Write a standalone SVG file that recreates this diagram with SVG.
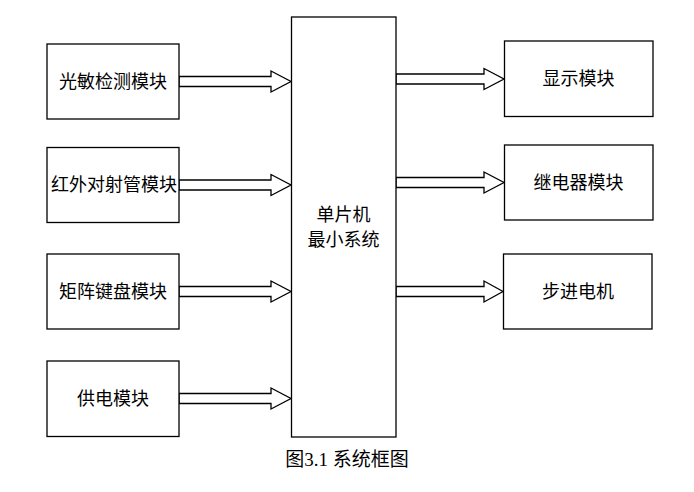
<svg xmlns="http://www.w3.org/2000/svg" width="694" height="492" viewBox="0 0 694 492">
<style>
.box{fill:#fff;stroke:#000;stroke-width:1.3}
.arr{fill:#fff;stroke:#000;stroke-width:1.3;stroke-linejoin:miter}
.t{font-family:"Liberation Sans","Noto Sans CJK SC",sans-serif;font-size:18px;fill:#000;text-anchor:middle;dominant-baseline:central}
.cap{font-family:"Liberation Serif","Noto Sans CJK SC",serif;font-size:19px;fill:#000;text-anchor:middle}
</style>
<rect width="694" height="492" fill="#fff"/>
<g id="connectors">
<polygon class="arr" points="179,76.5 271,76.5 271,71 291,81.5 271,92 271,86.5 179,86.5"/>
<polygon class="arr" points="179,180 271,180 271,174.5 291,185 271,195.5 271,190 179,190"/>
<polygon class="arr" points="179,286.5 271,286.5 271,281 291,291.5 271,302 271,296.5 179,296.5"/>
<polygon class="arr" points="179,393.5 271,393.5 271,388 291,398.5 271,409 271,403.5 179,403.5"/>
<polygon class="arr" points="396,74 484,74 484,68.5 504,79 484,89.5 484,84 396,84"/>
<polygon class="arr" points="396,177.5 484,177.5 484,172 504,182.5 484,193 484,187.5 396,187.5"/>
<polygon class="arr" points="396,286.5 484,286.5 484,281 503,291.5 484,302 484,296.5 396,296.5"/>
</g>
<g id="mcu"><rect class="box" x="291.5" y="17" width="104.5" height="420"/><text class="t" x="343.5" y="215">单片机</text><text class="t" x="343.5" y="240">最小系统</text></g>
<g id="light"><rect class="box" x="47" y="44" width="132" height="75"/><text class="t" x="113" y="82">光敏检测模块</text></g>
<g id="ir"><rect class="box" x="47" y="147.5" width="132" height="75"/><text class="t" x="114" y="185">红外对射管模块</text></g>
<g id="keypad"><rect class="box" x="47" y="254" width="132" height="75"/><text class="t" x="113" y="292">矩阵键盘模块</text></g>
<g id="power"><rect class="box" x="47" y="361" width="132" height="75.5"/><text class="t" x="113" y="399">供电模块</text></g>
<g id="display"><rect class="box" x="504.5" y="41" width="148.5" height="75.5"/><text class="t" x="578.5" y="79">显示模块</text></g>
<g id="relay"><rect class="box" x="504.5" y="145" width="148.5" height="75"/><text class="t" x="578.5" y="183">继电器模块</text></g>
<g id="stepper"><rect class="box" x="503.5" y="254" width="148.5" height="75"/><text class="t" x="578" y="292">步进电机</text></g>
<text class="cap" x="347" y="466">图3.1 系统框图</text>
</svg>
